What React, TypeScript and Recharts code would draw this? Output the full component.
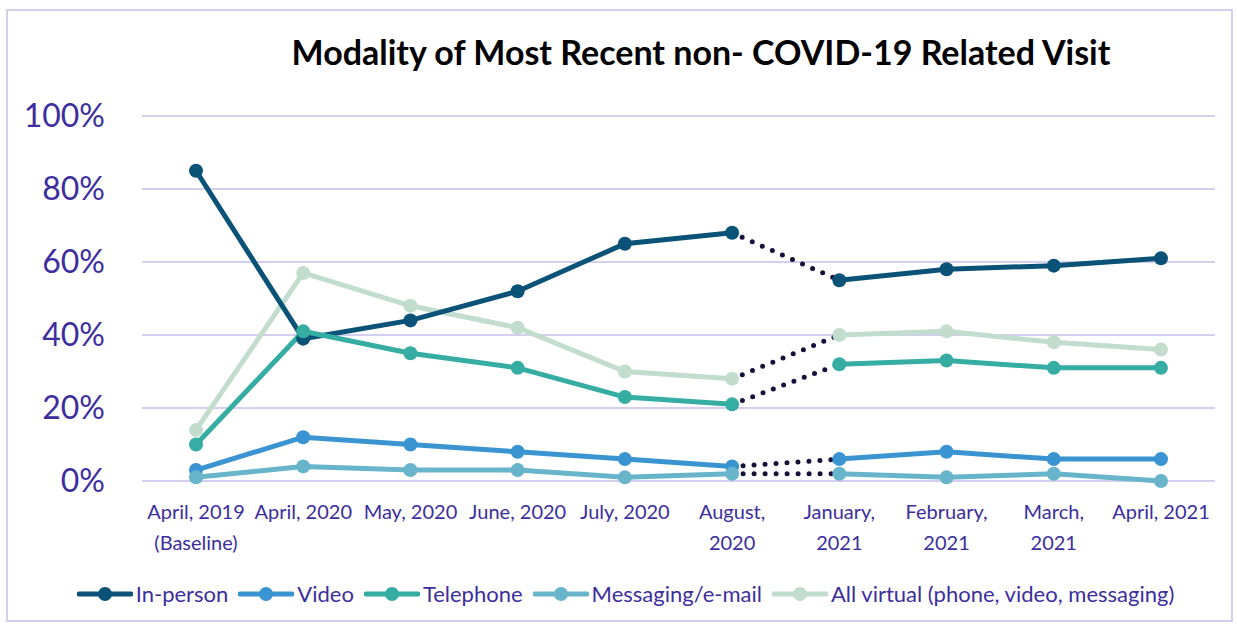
import React from "react";
import { LineChart, Line, XAxis, YAxis, CartesianGrid } from "recharts";

const categories = [
  "April, 2019\n(Baseline)",
  "April, 2020",
  "May, 2020",
  "June, 2020",
  "July, 2020",
  "August,\n2020",
  "January,\n2021",
  "February,\n2021",
  "March,\n2021",
  "April, 2021",
];

const inPerson = [85, 39, 44, 52, 65, 68, 55, 58, 59, 61];
const video = [3, 12, 10, 8, 6, 4, 6, 8, 6, 6];
const telephone = [10, 41, 35, 31, 23, 21, 32, 33, 31, 31];
const messaging = [1, 4, 3, 3, 1, 2, 2, 1, 2, 0];
const allVirtual = [14, 57, 48, 42, 30, 28, 40, 41, 38, 36];

const yTicks = [0, 20, 40, 60, 80, 100];

// last index before the gap (August 2020); the next point starts the second segment
const gapIndex = 5;

const series = [
  { key: "inPerson", name: "In-person", color: "#0A5277", values: inPerson },
  { key: "video", name: "Video", color: "#3A94D1", values: video },
  { key: "telephone", name: "Telephone", color: "#36ADA3", values: telephone },
  { key: "messaging", name: "Messaging/e-mail", color: "#68B4CB", values: messaging },
  { key: "allVirtual", name: "All virtual (phone, video, messaging)", color: "#C2DCCE", values: allVirtual },
];

const drawOrder = ["allVirtual", "inPerson", "video", "telephone", "messaging"];

const data = categories.map((cat, i) => {
  const row: Record<string, any> = { cat };
  series.forEach((s) => {
    const v = s.values[i];
    row[s.key + "A"] = i <= gapIndex ? v : null;
    row[s.key + "B"] = i > gapIndex ? v : null;
    row[s.key + "G"] = i === gapIndex || i === gapIndex + 1 ? v : null;
  });
  return row;
});

const TEXT = "#3C2E9E";
const FONT = "Lato, 'Open Sans', sans-serif";

const XTick = (props: any) => {
  const { x, y, payload } = props;
  const lines = String(payload.value).split("\n");
  return (
    <text x={x} y={y + 38} textAnchor="middle" fill={TEXT} fontSize={20} fontFamily={FONT}>
      {lines.map((l, i) => (
        <tspan key={i} x={x} dy={i === 0 ? 0 : 31}>
          {l}
        </tspan>
      ))}
    </text>
  );
};

const YTick = (props: any) => {
  const { x, y, payload } = props;
  return (
    <text x={x} y={y + 11} textAnchor="end" fill={TEXT} fontSize={32} fontFamily={FONT}>
      {payload.value + "%"}
    </text>
  );
};

const LegendRow = () => (
  <div
    style={{
      position: "absolute",
      left: 0,
      top: 580,
      width: 1237,
      display: "flex",
      justifyContent: "center",
      alignItems: "center",
      fontFamily: FONT,
      fontSize: 22,
      color: TEXT,
      paddingLeft: 24,
      boxSizing: "border-box",
    }}
  >
    {series.map((s) => (
      <div key={s.key} style={{ display: "flex", alignItems: "center", marginRight: 10 }}>
        <svg width={56} height={16} style={{ marginRight: 3 }}>
          <line x1={2} y1={8} x2={54} y2={8} stroke={s.color} strokeWidth={5} strokeLinecap="round" />
          <circle cx={28} cy={8} r={7} fill={s.color} />
        </svg>
        <span>{s.name}</span>
      </div>
    ))}
  </div>
);

export default function App() {
  const byKey: Record<string, any> = {};
  series.forEach((s) => (byKey[s.key] = s));
  return (
    <div style={{ position: "absolute", left: 0, top: 0, width: 1237, height: 627, background: "#fff" }}>
      <div
        style={{
          position: "absolute",
          left: 6,
          top: 9,
          width: 1223,
          height: 609,
          border: "2px solid #D3CEF0",
        }}
      />
      <div
        style={{
          position: "absolute",
          left: 0,
          top: 31,
          width: 1237,
          paddingLeft: 165,
          boxSizing: "border-box",
          textAlign: "center",
          fontFamily: FONT,
          fontWeight: 700,
          fontSize: 34,
          color: "#000",
        }}
      >
        Modality of Most Recent non- COVID-19 Related Visit
      </div>
      <div style={{ position: "absolute", left: 0, top: 0 }}>
        <LineChart
          width={1237}
          height={627}
          data={data}
          margin={{ top: 116, right: 22, bottom: 0, left: 0 }}
        >
          <CartesianGrid vertical={false} stroke="#D4CFEE" strokeWidth={2} />
          <XAxis
            dataKey="cat"
            axisLine={false}
            tickLine={false}
            tickSize={0}
            tickMargin={0}
            padding={{ left: 54, right: 54 }}
            interval={0}
            tick={<XTick />}
            height={146}
          />
          <YAxis
            domain={[0, 100]}
            ticks={yTicks}
            axisLine={false}
            tickLine={false}
            tickSize={0}
            tickMargin={37}
            width={142}
            tick={<YTick />}
          />
          {series.map((s) => (
            <Line
              key={s.key + "G"}
              dataKey={s.key + "G"}
              stroke="#16113A"
              strokeWidth={5}
              strokeDasharray="0 11"
              strokeLinecap="round"
              dot={false}
              activeDot={false}
              isAnimationActive={false}
              legendType="none"
            />
          ))}
          {drawOrder.map((k) => {
            const s = byKey[k];
            return [
              <Line
                key={k + "A"}
                dataKey={k + "A"}
                stroke={s.color}
                strokeWidth={5}
                dot={{ r: 7, fill: s.color, stroke: s.color, strokeWidth: 0 }}
                activeDot={false}
                isAnimationActive={false}
              />,
              <Line
                key={k + "B"}
                dataKey={k + "B"}
                stroke={s.color}
                strokeWidth={5}
                dot={{ r: 7, fill: s.color, stroke: s.color, strokeWidth: 0 }}
                activeDot={false}
                isAnimationActive={false}
              />,
            ];
          })}
        </LineChart>
      </div>
      <LegendRow />
    </div>
  );
}
